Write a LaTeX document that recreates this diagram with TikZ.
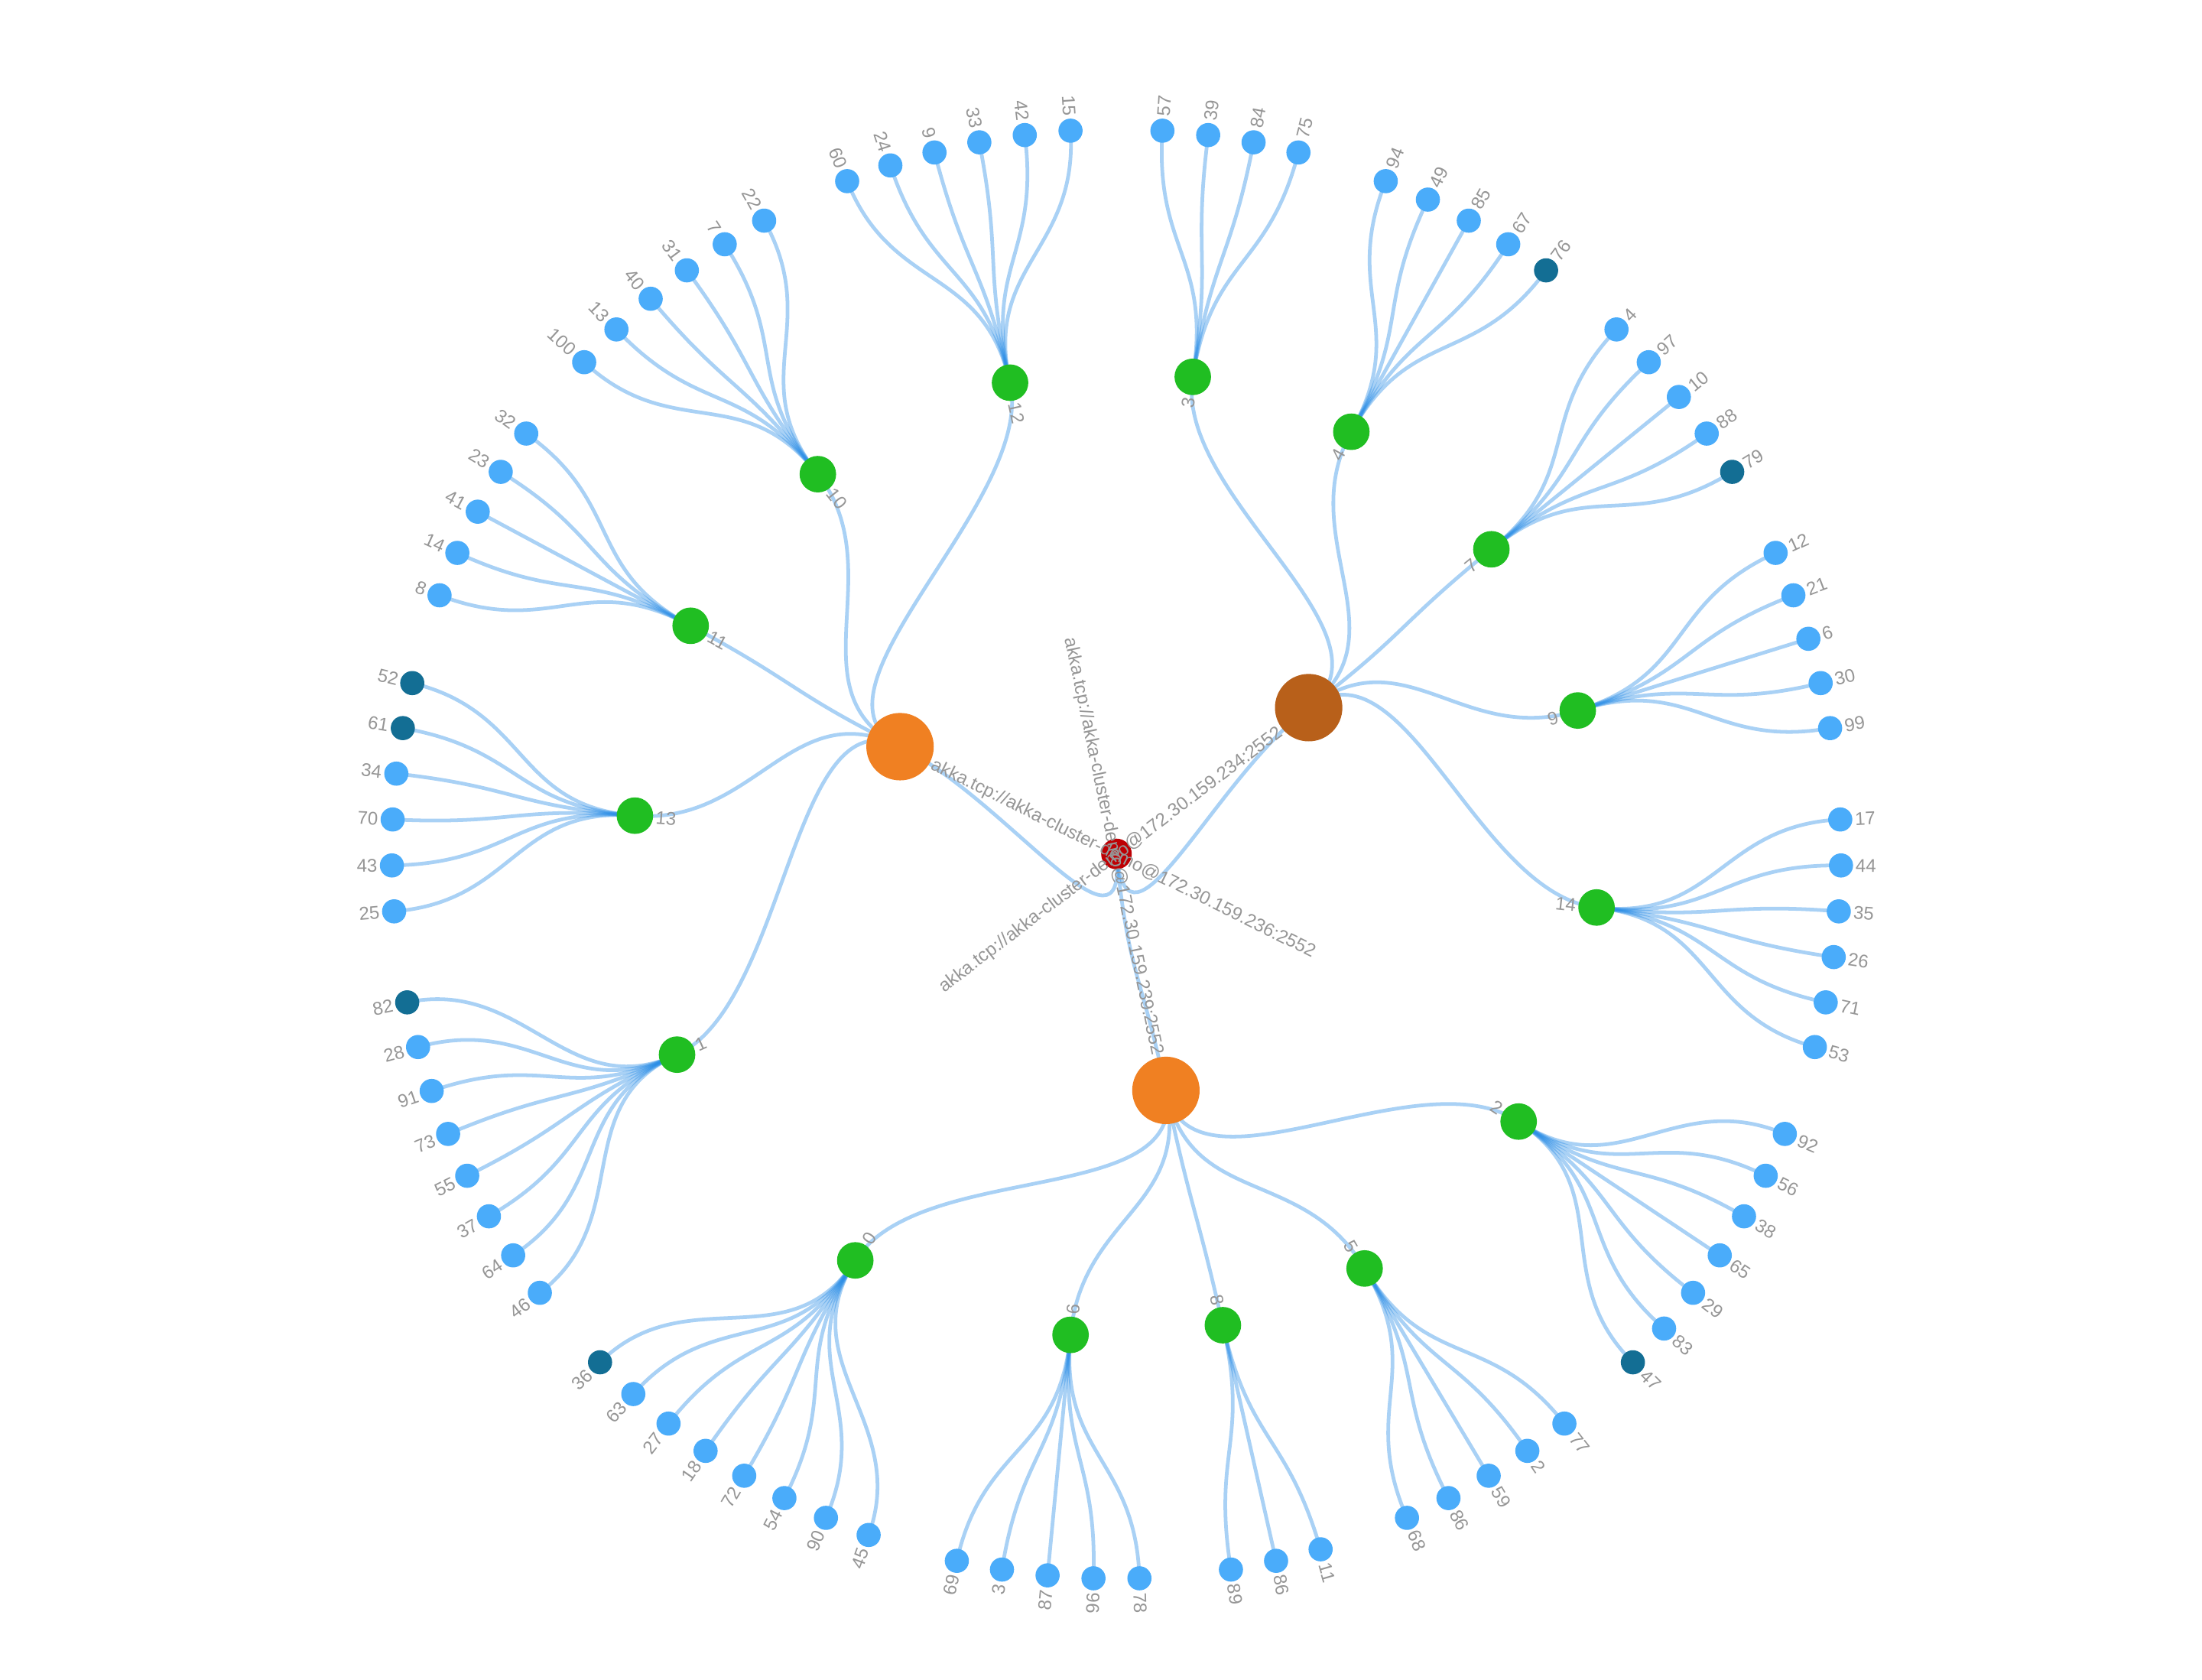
\documentclass[tikz,border=0pt]{standalone}
\usepackage{fontspec}
\setmainfont{Liberation Sans}
\usetikzlibrary{calc}
\definecolor{leafc}{RGB}{74,172,250}
\definecolor{darkc}{RGB}{19,110,148}
\definecolor{greenc}{RGB}{32,190,34}
\definecolor{orangec}{RGB}{240,128,34}
\definecolor{brownc}{RGB}{184,96,26}
\definecolor{rootc}{RGB}{190,0,4}
\definecolor{edgec}{RGB}{40,140,230}
\definecolor{txtc}{RGB}{150,150,150}
\pgfdeclarelayer{bg}
\pgfdeclarelayer{edges}
\pgfsetlayers{bg,edges,main}
\def\Ustep{3.63636364}

\newcommand\Grp[6]{%
  % #1 label, #2 parent node, #3 parent angle, #4 green position, #5 first leaf position, #6 leaves
  \pgfmathsetmacro\ag{90-(#4+1)*\Ustep}
  \node[gdot] (g#1) at ($(O)+(\ag:344)$) {};
  \begin{pgfonlayer}{edges}
    \draw[edge] (#2.center) .. controls ($(O)+(#3:258)$) and ($(O)+(\ag:258)$) .. (g#1.center);
  \end{pgfonlayer}
  \pgfmathtruncatemacro\gleft{cos(\ag)<0}
  \pgfmathsetmacro\gr{\ag-180}
  \ifnum\gleft=1
    \node[lbl,anchor=west,rotate=\gr] (tg#1) at ($(O)+(\ag:329.5)$) {#1};
  \else
    \node[lbl,anchor=east,rotate=\ag] (tg#1) at ($(O)+(\ag:329.5)$) {#1};
  \fi
  \foreach \lab/\col [count=\i from 0] in {#6} {
    \pgfmathsetmacro\al{90-(#5+\i+1)*\Ustep}
    \pgfmathsetmacro\rl{\al-180}
    \pgfmathtruncatemacro\lleft{cos(\al)<0}
    \node[dot,fill=\col] (l#1x\lab) at ($(O)+(\al:516)$) {};
    \begin{pgfonlayer}{edges}
      \draw[edge] (g#1.center) .. controls ($(O)+(\ag:430)$) and ($(O)+(\al:430)$) .. (l#1x\lab.center);
    \end{pgfonlayer}
    \ifnum\lleft=1
      \node[lbl,anchor=east,rotate=\rl] (t#1x\lab) at ($(O)+(\al:526.1)$) {\lab};
    \else
      \node[lbl,anchor=west,rotate=\al] (t#1x\lab) at ($(O)+(\al:526.1)$) {\lab};
    \fi
  }%
}

\begin{document}
\begin{tikzpicture}[x=0.5pt,y=0.5pt,
  dot/.style={circle,inner sep=0pt,minimum size=8.6pt},
  gdot/.style={circle,inner sep=0pt,minimum size=13pt,fill=greenc},
  bigdot/.style={circle,inner sep=0pt,minimum size=24pt,fill=#1},
  rootdot/.style={circle,inner sep=0pt,minimum size=10.9pt,fill=rootc},
  edge/.style={draw=edgec,draw opacity=0.4,line width=1.3pt},
  lbl/.style={inner sep=0pt,text=txtc,font=\fontsize{6.53}{7.8}\selectfont,text height=4.57pt,text depth=0pt},
]
\begin{pgfonlayer}{bg}
  \fill[white] (0,0) rectangle (1568,1196);
\end{pgfonlayer}
\useasboundingbox (0,0) rectangle (1568,1196);
\coordinate (O) at (795,588);
\pgfmathsetmacro\aR{90-48*\Ustep}
\pgfmathsetmacro\aB{90-14.5*\Ustep}
\pgfmathsetmacro\aC{90-46.25*\Ustep}
\pgfmathsetmacro\aA{90-81.5*\Ustep}
\pgfmathsetmacro\rA{\aA-180}

\node[rootdot] (root) at (O) {};
\node[bigdot=brownc] (B) at ($(O)+(\aB:172)$) {};
\node[bigdot=orangec] (C) at ($(O)+(\aC:172)$) {};
\node[bigdot=orangec] (A) at ($(O)+(\aA:172)$) {};
\begin{pgfonlayer}{edges}
  \draw[edge] (root.center) .. controls ($(O)+(\aR:86)$) and ($(O)+(\aB:86)$) .. (B.center);
  \draw[edge] (root.center) .. controls ($(O)+(\aR:86)$) and ($(O)+(\aC:86)$) .. (C.center);
  \draw[edge] (root.center) .. controls ($(O)+(\aR:86)$) and ($(O)+(\aA:86)$) .. (A.center);
\end{pgfonlayer}

\Grp{3}{B}{\aB}{1.5}{0}{57/leafc,39/leafc,84/leafc,75/leafc}
\Grp{4}{B}{\aB}{7}{5}{94/leafc,49/leafc,85/leafc,67/leafc,76/darkc}
\Grp{7}{B}{\aB}{13}{11}{4/leafc,97/leafc,10/leafc,88/leafc,79/darkc}
\Grp{9}{B}{\aB}{19}{17}{12/leafc,21/leafc,6/leafc,30/leafc,99/leafc}
\Grp{14}{B}{\aB}{25.5}{23}{17/leafc,44/leafc,35/leafc,26/leafc,71/leafc,53/leafc}
\Grp{2}{C}{\aC}{33}{30}{92/leafc,56/leafc,38/leafc,65/leafc,29/leafc,83/leafc,47/darkc}
\Grp{5}{C}{\aC}{40}{38}{77/leafc,2/leafc,59/leafc,86/leafc,68/leafc}
\Grp{8}{C}{\aC}{45}{44}{11/leafc,86/leafc,89/leafc}
\Grp{6}{C}{\aC}{50}{48}{78/leafc,96/leafc,87/leafc,3/leafc,69/leafc}
\Grp{0}{C}{\aC}{57.5}{54}{45/leafc,90/leafc,54/leafc,72/leafc,18/leafc,27/leafc,63/leafc,36/darkc}
\Grp{1}{A}{\aA}{66.5}{63}{46/leafc,64/leafc,37/leafc,55/leafc,73/leafc,91/leafc,28/leafc,82/darkc}
\Grp{13}{A}{\aA}{74.5}{72}{25/leafc,43/leafc,70/leafc,34/leafc,61/darkc,52/darkc}
\Grp{11}{A}{\aA}{81}{79}{8/leafc,14/leafc,41/leafc,23/leafc,32/leafc}
\Grp{10}{A}{\aA}{87.5}{85}{100/leafc,13/leafc,40/leafc,31/leafc,7/leafc,22/leafc}
\Grp{12}{A}{\aA}{94.5}{92}{60/leafc,24/leafc,9/leafc,33/leafc,42/leafc,15/leafc}

\node[lbl,anchor=west,rotate=\rA] (tA) at ($(O)+(\aA:146.5)$) {akka.tcp://akka-cluster-demo@172.30.159.236:2552};
\node[lbl,anchor=east,rotate=\aB] (tB) at ($(O)+(\aB:146.5)$) {akka.tcp://akka-cluster-demo@172.30.159.234:2552};
\node[lbl,anchor=east,rotate=\aC] (tC) at ($(O)+(\aC:146.5)$) {akka.tcp://akka-cluster-demo@172.30.159.239:2552};
\end{tikzpicture}
\end{document}
